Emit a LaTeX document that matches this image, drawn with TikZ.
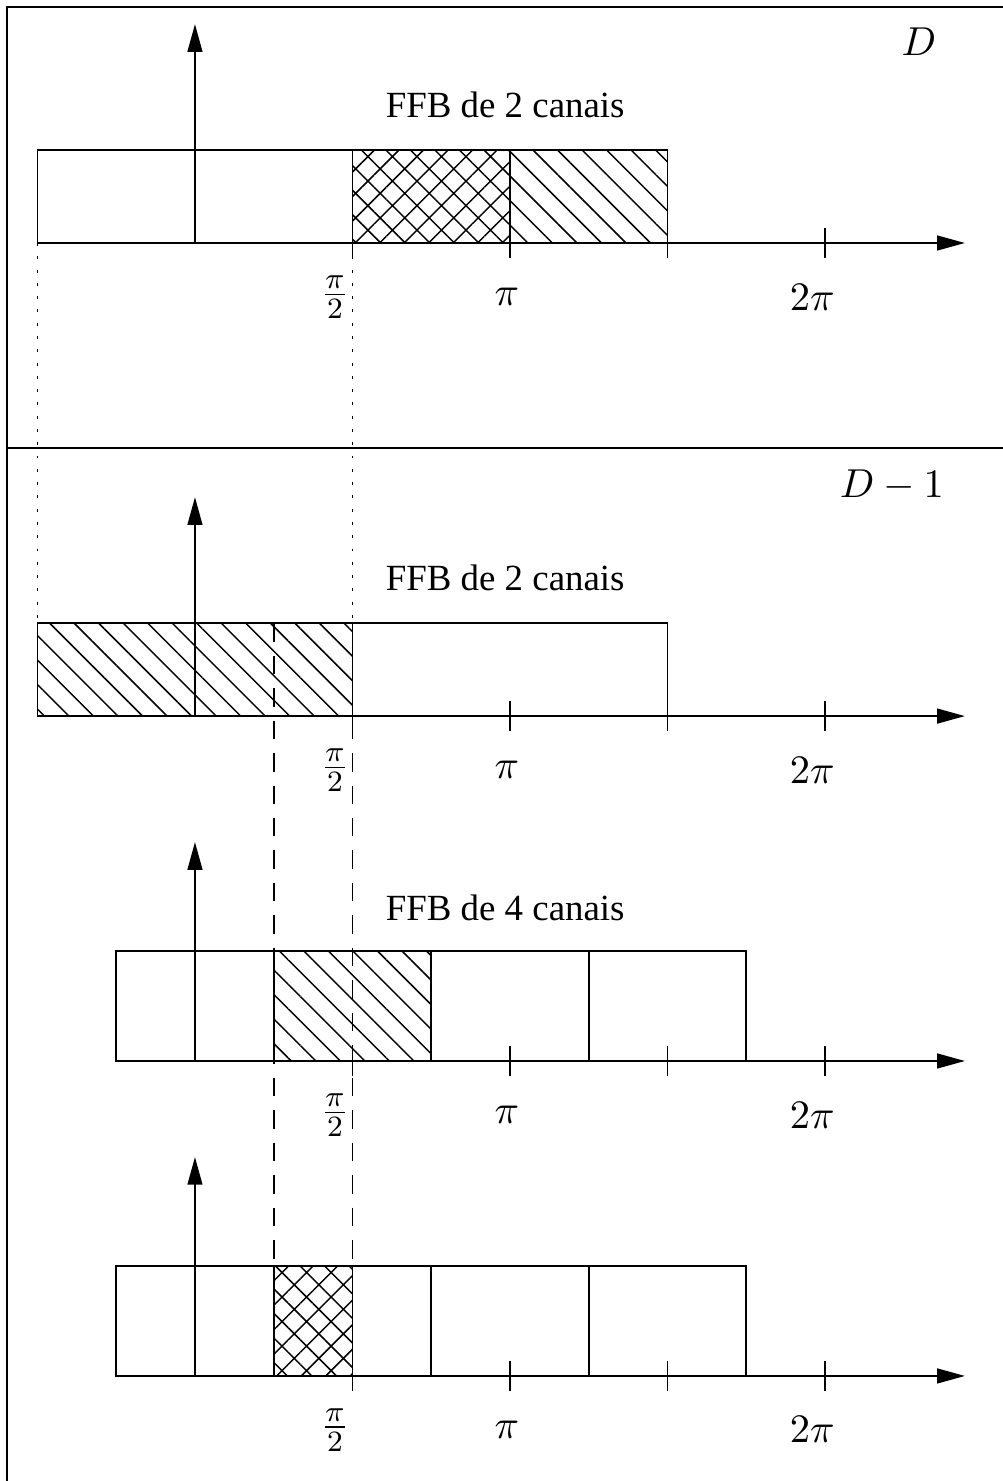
\documentclass[tikz,border=0pt]{standalone}
\usepackage{fontspec}
\setmainfont{Liberation Serif}
\usetikzlibrary{arrows.meta,patterns.meta}

\begin{document}
\begin{tikzpicture}[
	x=1.5cm, y=1.5cm,
	band/.style={ draw, line width=0.5pt },
	hatched/.style={ band, pattern={Lines[angle=-45,distance=4.7pt,line width=0.4pt]} },
	crossed/.style={ band, pattern={Hatch[angle=45,distance=4.7pt,line width=0.4pt]} },
	axis/.style={ line width=0.5pt, -{Triangle[length=7.5pt,width=4pt]} },
	tickmark/.style={ line width=0.5pt },
	ticklabel/.style={ font=\fontsize{11}{13}\selectfont },
	frame/.style={ line width=0.6pt },
	dotguide/.style={ line width=0.5pt, dash pattern=on 0.8pt off 2.8pt },
	dashguide/.style={ line width=0.5pt, dash pattern=on 5pt off 3.8pt }
]
\useasboundingbox (-1.238,-0.667) rectangle (5.130,8.737);

% frame and separator
\draw[frame] (-1.194,-0.667) -- (-1.194,8.692) -- (5.130,8.692);
\draw[frame] (-1.194,5.892) -- (5.130,5.892);

% level D, 2 channels
\begin{scope}[yshift=7.194*1.5cm]
	\draw[band] (-1,0) rectangle (1,0.59);
	\draw[crossed] (1,0) rectangle (2,0.59);
	\draw[hatched] (2,0) rectangle (3,0.59);
	\coordinate (g1l) at (-1,0);
	\coordinate (g1r) at (1,0);
	\draw[axis] (-1,0) -- (4.889,0);
	\draw[axis] (0,0) -- (0,1.39);
	\foreach \t in {1,2,3,4} \draw[tickmark] (\t,-0.095) -- (\t,0.095);
	\node[ticklabel] (g1half) at (0.889,-0.343) {$\frac{\pi}{2}$};
	\node[ticklabel] (g1pi) at (1.98,-0.343) {$\pi$};
	\node[ticklabel] (g1twopi) at (3.92,-0.343) {$2\pi$};
	\node (g1name) at (1.97,0.876) {FFB de 2 canais};
	\node[ticklabel] (g1level) at (4.597,1.276) {$D$};
\end{scope}

% level D-1, 2 channels
\begin{scope}[yshift=4.19*1.5cm]
	\draw[hatched] (-1,0) rectangle (1,0.59);
	\draw[band] (1,0) rectangle (3,0.59);
	\coordinate (g2l) at (-1,0.59);
	\coordinate (g2r) at (1,0.59);
	\coordinate (g2m) at (0.5,0.59);
	\draw[axis] (-1,0) -- (4.889,0);
	\draw[axis] (0,0) -- (0,1.39);
	\foreach \t in {1,2,3,4} \draw[tickmark] (\t,-0.095) -- (\t,0.095);
	\node[ticklabel] (g2half) at (0.889,-0.343) {$\frac{\pi}{2}$};
	\node[ticklabel] (g2pi) at (1.98,-0.343) {$\pi$};
	\node[ticklabel] (g2twopi) at (3.92,-0.343) {$2\pi$};
	\node (g2name) at (1.97,0.876) {FFB de 2 canais};
	\node[ticklabel] (g2level) at (4.425,1.467) {$D-1$};
\end{scope}

% 4 channels
\begin{scope}[yshift=2*1.5cm]
	\draw[band] (-0.5,0) rectangle (0.5,0.7);
	\draw[hatched] (0.5,0) rectangle (1.5,0.7);
	\draw[band] (1.5,0) rectangle (2.5,0.7);
	\draw[band] (2.5,0) rectangle (3.5,0.7);
	\draw[axis] (-0.5,0) -- (4.889,0);
	\draw[axis] (0,0) -- (0,1.39);
	\foreach \t in {1,2,3,4} \draw[tickmark] (\t,-0.095) -- (\t,0.095);
	\node[ticklabel] (g3half) at (0.889,-0.343) {$\frac{\pi}{2}$};
	\node[ticklabel] (g3pi) at (1.98,-0.343) {$\pi$};
	\node[ticklabel] (g3twopi) at (3.92,-0.343) {$2\pi$};
	\node (g3name) at (1.97,0.97) {FFB de 4 canais};
\end{scope}

% 4 channels, split band
\begin{scope}
	\draw[band] (-0.5,0) rectangle (0.5,0.7);
	\draw[band] (0.5,0) rectangle (1.5,0.7);
	\draw[crossed] (0.5,0) rectangle (1,0.7);
	\draw[band] (1.5,0) rectangle (2.5,0.7);
	\draw[band] (2.5,0) rectangle (3.5,0.7);
	\coordinate (g4m) at (0.5,0.7);
	\coordinate (g4r) at (1,0.7);
	\draw[axis] (-0.5,0) -- (4.889,0);
	\draw[axis] (0,0) -- (0,1.39);
	\foreach \t in {1,2,3,4} \draw[tickmark] (\t,-0.095) -- (\t,0.095);
	\node[ticklabel] (g4half) at (0.889,-0.343) {$\frac{\pi}{2}$};
	\node[ticklabel] (g4pi) at (1.98,-0.343) {$\pi$};
	\node[ticklabel] (g4twopi) at (3.92,-0.343) {$2\pi$};
\end{scope}

% guides between levels
\draw[dotguide] (g1l) -- (g2l);
\draw[dotguide] (g1r) -- (g2r);
\draw[dashguide] (g2m) -- (g4m);
\draw[dashguide] (g2r) -- (g4r);

\end{tikzpicture}
\end{document}
